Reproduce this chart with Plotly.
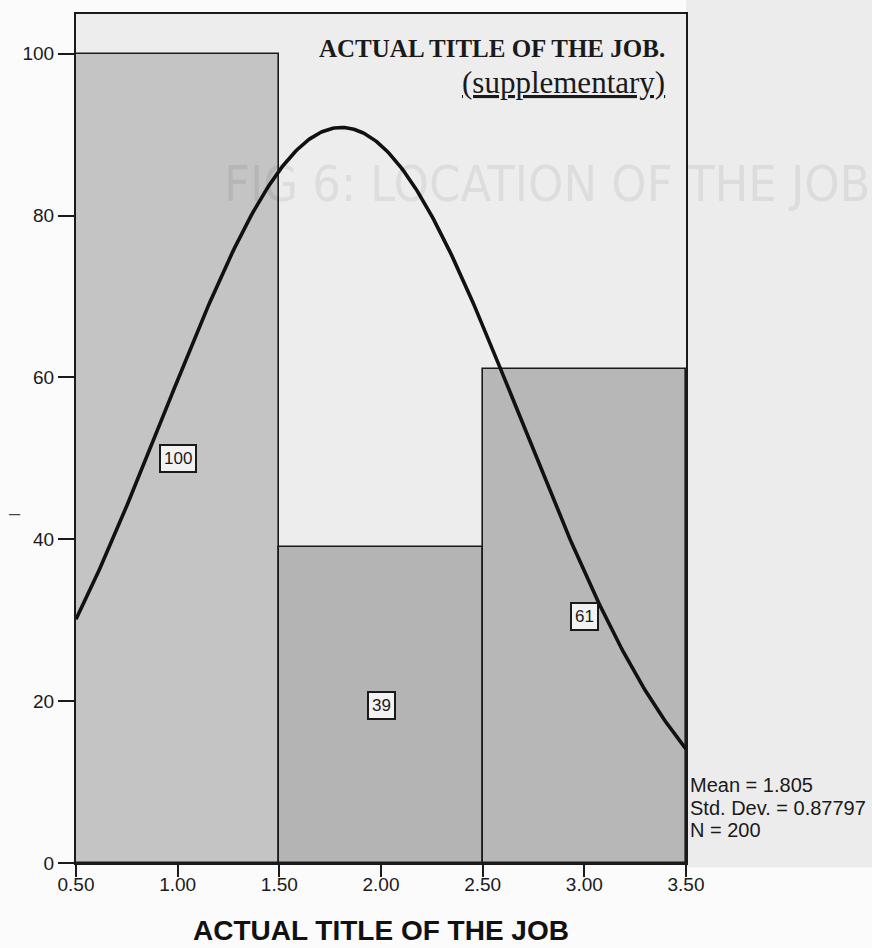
import numpy as np
import plotly.graph_objects as go

# Histogram of "Actual title of the job" (coded 1..3) with a fitted normal curve
bin_centers = [1.0, 2.0, 3.0]
frequencies = [100, 39, 61]
x_ticks = [0.5, 1.0, 1.5, 2.0, 2.5, 3.0, 3.5]
y_ticks = [0, 20, 40, 60, 80, 100]

MEAN = 1.805
STD_DEV = 0.87797
N = 200
BIN_WIDTH = 1.0

bar_fills = ["#c4c4c4", "#b4b4b4", "#b7b7b7"]

# Normal curve scaled to counts (N * bin width * density)
curve_x = np.linspace(0.5, 3.5, 301)
curve_y = N * BIN_WIDTH / (STD_DEV * np.sqrt(2 * np.pi)) * np.exp(-0.5 * ((curve_x - MEAN) / STD_DEV) ** 2)

fig = go.Figure()

fig.add_trace(go.Bar(
    x=bin_centers, y=frequencies, width=BIN_WIDTH,
    marker=dict(color=bar_fills, line=dict(color="#1a1a1a", width=1.6)),
    hoverinfo="skip", showlegend=False,
))

fig.add_trace(go.Scatter(
    x=curve_x, y=curve_y, mode="lines",
    line=dict(color="#111111", width=3.6),
    hoverinfo="skip", showlegend=False,
))

# Boxed frequency labels at the middle of each bar
for xc, f in zip(bin_centers, frequencies):
    fig.add_annotation(
        x=xc, y=f / 2, text=str(f), showarrow=False,
        font=dict(family="Liberation Sans, Arial", size=17, color="#1a1a1a"),
        bgcolor="#f2f2f2", bordercolor="#1a1a1a", borderwidth=2, borderpad=3,
    )

# Chart title inside the frame, top right
fig.add_annotation(
    xref="paper", yref="paper", x=0.969, y=0.9588, xanchor="right", yanchor="middle",
    text="<b>ACTUAL TITLE OF THE JOB.</b>", showarrow=False,
    font=dict(family="Liberation Serif, Times New Roman", size=25, color="#1a1a1a"),
)
fig.add_annotation(
    xref="paper", yref="paper", x=0.969, y=0.9199, xanchor="right", yanchor="middle",
    text="<u>(supplementary)</u>", showarrow=False,
    font=dict(family="Liberation Serif, Times New Roman", size=31, color="#1a1a1a"),
)

# Summary statistics beside the plot, one line each
stats_lines = [f"Mean = {MEAN:.3f}", f"Std. Dev. = {STD_DEV}", f"N = {N}"]
stats_y = [0.0919, 0.0648, 0.0389]
for line_text, yy in zip(stats_lines, stats_y):
    fig.add_annotation(
        xref="paper", yref="paper", x=1.003, y=yy, xanchor="left", yanchor="middle",
        text=line_text, showarrow=False,
        font=dict(family="Liberation Sans, Arial", size=20, color="#1a1a1a"),
    )

# Axis title
fig.add_annotation(
    xref="paper", yref="paper", x=0.5, y=-0.079, xanchor="center", yanchor="middle",
    text="<b>ACTUAL TITLE OF THE JOB</b>", showarrow=False,
    font=dict(family="Liberation Sans, Arial", size=28, color="#111111"),
)

# Faint print-through heading from the facing page
fig.add_annotation(
    xref="paper", yref="paper", x=0.239, y=0.80, xanchor="left", yanchor="middle",
    text="FIG 6: LOCATION OF THE JOB", showarrow=False,
    font=dict(family="Liberation Sans Narrow, DejaVu Sans Condensed, Liberation Sans", size=50, color="rgba(0,0,0,0.065)"),
)

# Stray vertical-axis mark
fig.add_annotation(
    xref="paper", yref="paper", x=-0.1, y=0.412, xanchor="center", yanchor="middle",
    text="–", showarrow=False,
    font=dict(family="Liberation Sans, Arial", size=20, color="#444444"),
)

# Grey page tone to the right of the frame
fig.add_shape(
    type="rect", xref="paper", yref="paper", x0=1.0, x1=1.31, y0=-0.005, y1=1.02,
    fillcolor="#ececec", line=dict(width=0), layer="below",
)

fig.update_layout(
    width=872, height=948,
    margin=dict(l=76, r=186, t=14, b=85),
    paper_bgcolor="#fbfbfb",
    plot_bgcolor="#ededed",
    bargap=0,
    showlegend=False,
    xaxis=dict(
        range=[0.5, 3.5], tickvals=x_ticks, ticktext=[f"{v:.2f}" for v in x_ticks],
        ticks="outside", ticklen=12, tickwidth=2, tickcolor="#1a1a1a",
        ticklabelstandoff=-9,
        showline=True, linecolor="#1a1a1a", linewidth=2, mirror=True,
        showgrid=False, zeroline=False,
        tickfont=dict(family="Liberation Sans, Arial", size=19, color="#1a1a1a"),
    ),
    yaxis=dict(
        range=[0, 104.9], tickvals=y_ticks,
        ticks="outside", ticklen=16, tickwidth=2, tickcolor="#1a1a1a",
        showline=True, linecolor="#1a1a1a", linewidth=2, mirror=True,
        showgrid=False, zeroline=False,
        tickfont=dict(family="Liberation Sans, Arial", size=19, color="#1a1a1a"),
    ),
)

fig.write_html("out.html")
